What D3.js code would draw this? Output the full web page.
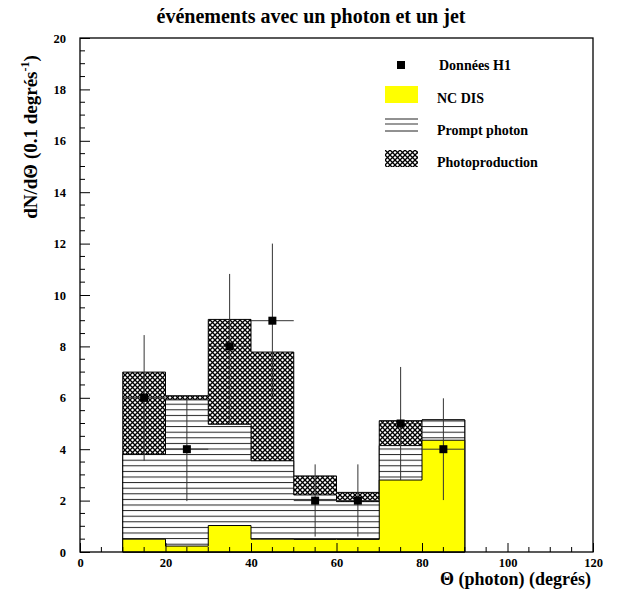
<!DOCTYPE html>
<html>
<head>
<meta charset="utf-8">
<script src="https://cdn.jsdelivr.net/npm/d3@7"></script>
<style>
  html, body { margin: 0; padding: 0; background: #fff; }
  svg text { font-family: "Liberation Serif", "Times New Roman", serif; font-weight: bold; fill: #000; }
</style>
</head>
<body>
<svg id="chart" width="619" height="599"></svg>
<script>
// ---- data ----
const binLow   = [10, 20, 30, 40, 50, 60, 70, 80];
const binHigh  = [20, 30, 40, 50, 60, 70, 80, 90];
const ncdis    = [0.50, 0.23, 1.03, 0.50, 0.49, 0.49, 2.80, 4.35];
const prompt   = [3.30, 5.69, 3.94, 3.05, 1.73, 1.47, 1.34, 0.79];
const photoprod= [3.20, 0.16, 4.08, 4.23, 0.74, 0.36, 0.97, 0.00];
const dataX    = [15, 25, 35, 45, 55, 65, 75, 85];
const dataY    = [6, 4, 8, 9, 2, 2, 5, 4];
const errUp    = [2.44, 1.96, 2.82, 3.00, 1.41, 1.41, 2.20, 1.98];
const errDown  = [2.45, 2.02, 3.00, 2.98, 1.40, 1.40, 2.20, 1.98];
const errX     = [5, 5, 5, 5, 5, 5, 5, 5];
const xTicks   = [0, 20, 40, 60, 80, 100, 120];
const yTicks   = [0, 2, 4, 6, 8, 10, 12, 14, 16, 18, 20];
const legendLabels = ["Données H1", "NC DIS", "Prompt photon", "Photoproduction"];
const titleText = "événements avec un photon et un jet";

// ---- layout ----
const svg = d3.select("#chart");
const L = 80, R = 593, T = 38, B = 552;
const x = d3.scaleLinear().domain([0, 120]).range([L, R]);
const y = d3.scaleLinear().domain([0, 20]).range([B, T]);

const defs = svg.append("defs");
// horizontal hatch for prompt photon
const ph = defs.append("pattern").attr("id", "hatch").attr("patternUnits", "userSpaceOnUse")
  .attr("width", 8).attr("height", 5.6).attr("y", 0.5);
ph.append("rect").attr("width", 8).attr("height", 5.6).attr("fill", "#fff");
ph.append("line").attr("x1", 0).attr("x2", 8).attr("y1", 0.5).attr("y2", 0.5)
  .attr("stroke", "#222").attr("stroke-width", 1);
// crosshatch for photoproduction
const cp = defs.append("pattern").attr("id", "cross").attr("patternUnits", "userSpaceOnUse")
  .attr("width", 5).attr("height", 5);
cp.append("rect").attr("width", 5).attr("height", 5).attr("fill", "#fff");
cp.append("path").attr("d", "M0,0L5,5M5,0L0,5").attr("stroke", "#000").attr("stroke-width", 1.3);

// stacks
const cumPrompt = ncdis.map((v, i) => v + prompt[i]);
const cumPhoto  = cumPrompt.map((v, i) => v + photoprod[i]);

function stepPath(vals) {
  let d = `M${x(binLow[0])},${y(0)}`;
  vals.forEach((v, i) => {
    d += `L${x(binLow[i])},${y(v)}L${x(binHigh[i])},${y(v)}`;
  });
  d += `L${x(binHigh[binHigh.length - 1])},${y(0)}Z`;
  return d;
}

const g = svg.append("g");
g.append("path").attr("d", stepPath(cumPhoto)).attr("fill", "url(#cross)").attr("stroke", "#000").attr("stroke-width", 1);
g.append("path").attr("d", stepPath(cumPrompt)).attr("fill", "url(#hatch)").attr("stroke", "#000").attr("stroke-width", 1);
g.append("path").attr("d", stepPath(ncdis)).attr("fill", "#ffff00").attr("stroke", "#000").attr("stroke-width", 1);

// data points with error bars
const pts = g.append("g");
dataX.forEach((xv, i) => {
  pts.append("line").attr("x1", x(xv)).attr("x2", x(xv))
    .attr("y1", y(dataY[i] + errUp[i])).attr("y2", y(dataY[i] - errDown[i]))
    .attr("stroke", "#333").attr("stroke-width", 1);
  pts.append("line").attr("x1", x(xv - errX[i])).attr("x2", x(xv + errX[i]))
    .attr("y1", y(dataY[i])).attr("y2", y(dataY[i]))
    .attr("stroke", "#333").attr("stroke-width", 1);
  pts.append("rect").attr("x", x(xv) - 4).attr("y", y(dataY[i]) - 4)
    .attr("width", 8).attr("height", 8).attr("fill", "#000");
});

// frame
svg.append("rect").attr("x", L).attr("y", T).attr("width", R - L).attr("height", B - T)
  .attr("fill", "none").attr("stroke", "#000").attr("stroke-width", 1.3);

// x ticks (inside, upward)
const xAxis = d3.axisBottom(x).tickValues(xTicks).tickSize(-9).tickPadding(6).tickFormat(d3.format("d"));
const xa = svg.append("g").attr("transform", `translate(0,${B})`).call(xAxis);
xa.select(".domain").remove();
xa.selectAll("text").attr("font-size", 12.5);
const xMinor = d3.range(0, 121, 5).filter(v => v % 20 !== 0);
svg.append("g").selectAll("line").data(xMinor).join("line")
  .attr("x1", d => x(d)).attr("x2", d => x(d)).attr("y1", B).attr("y2", B - 5)
  .attr("stroke", "#000");

// y ticks (inside, rightward)
const yAxis = d3.axisLeft(y).tickValues(yTicks).tickSize(-10).tickPadding(14).tickFormat(d3.format("d"));
const ya = svg.append("g").attr("transform", `translate(${L},0)`).call(yAxis);
ya.select(".domain").remove();
ya.selectAll("text").attr("font-size", 12.5);
const yMinor = d3.range(0, 20.01, 0.5).filter(v => v % 2 !== 0);
svg.append("g").selectAll("line").data(yMinor).join("line")
  .attr("x1", L).attr("x2", L + 5).attr("y1", d => y(d)).attr("y2", d => y(d))
  .attr("stroke", "#000");

// title
svg.append("text").attr("x", 311).attr("y", 23).attr("text-anchor", "middle")
  .attr("font-size", 20).text(titleText);

// x axis title
svg.append("text").attr("x", 591).attr("y", 585).attr("text-anchor", "end")
  .attr("font-size", 18).text("Θ (photon) (degrés)");

// y axis title
const yt = svg.append("text").attr("transform", "translate(37,137) rotate(-90)")
  .attr("text-anchor", "middle").attr("font-size", 19);
yt.append("tspan").text("dN/dΘ (0.1 degrés");
yt.append("tspan").attr("dy", -8).attr("font-size", 12).text("-1");
yt.append("tspan").attr("dy", 8).text(")");

// legend
const lg = svg.append("g");
lg.append("rect").attr("x", 397).attr("y", 61).attr("width", 8).attr("height", 8).attr("fill", "#000");
lg.append("rect").attr("x", 385).attr("y", 86).attr("width", 33).attr("height", 17).attr("fill", "#ffff00");
[119, 124, 131].forEach((yy, i) => {
  lg.append("line").attr("x1", 385).attr("x2", 418).attr("y1", yy).attr("y2", yy)
    .attr("stroke", i === 1 ? "#777" : "#222").attr("stroke-width", i === 1 ? 1.6 : 1);
});
lg.append("rect").attr("x", 385).attr("y", 150).attr("width", 33).attr("height", 17).attr("fill", "url(#cross)");
const ly = [70, 103, 135, 167];
legendLabels.forEach((t, i) => {
  lg.append("text").attr("x", i === 0 ? 439 : 437).attr("y", ly[i]).attr("font-size", 14).text(t);
});
</script>
</body>
</html>
